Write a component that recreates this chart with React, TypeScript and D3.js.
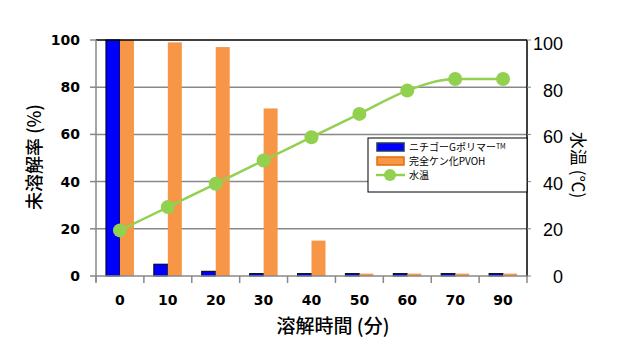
import React from "react";
import * as d3 from "d3";

const categories = ["0", "10", "20", "30", "40", "50", "60", "70", "90"];
const nichigoValues = [100, 5, 2, 1, 1, 1, 1, 1, 1];
const pvohValues = [100, 99, 97, 71, 15, 1, 1, 1, 1];
const waterTemp = [20, 30, 40, 50, 60, 70, 80, 85, 85];
const leftTicks = [0, 20, 40, 60, 80, 100];
const rightTicks = [0, 20, 40, 60, 80, 100];

const W = 620, H = 360;
const L = 96, R = 527, T = 40, B = 276;

export default function App() {
  const x = d3.scaleBand<string>().domain(categories).range([L, R]);
  const y = d3.scaleLinear().domain([0, 100]).range([B, T]);
  const y2 = d3.scaleLinear().domain([0, 100]).range([277, 44]);
  const bw = 14;
  const cx = (c: string) => (x(c) as number) + x.bandwidth() / 2;
  const line = d3
    .line<number>()
    .x((_, i) => cx(categories[i]))
    .y((d) => y2(d))
    .curve(d3.curveMonotoneX);
  const font = "'Liberation Sans', Arial, 'Noto Sans CJK JP', sans-serif";
  const bfont = "'DejaVu Sans', Verdana, sans-serif";
  const jfont = "'Noto Sans CJK JP', sans-serif";
  return (
    <svg width={W} height={H} style={{ position: "absolute", left: 0, top: 0, background: "#fff" }} fontFamily={font}>
      {/* gridlines */}
      {leftTicks.filter((t) => t > 0 && t < 100).map((t) => (
        <line key={t} x1={L} x2={R} y1={y(t)} y2={y(t)} stroke="#888" strokeWidth={1.5} />
      ))}
      {/* bars */}
      {categories.map((c, i) => (
        <g key={c}>
          <rect x={cx(c) - bw} y={y(nichigoValues[i])} width={bw} height={B - y(nichigoValues[i])} fill="#0000ff" stroke="#000" strokeWidth={1} />
          <rect x={cx(c)} y={y(pvohValues[i])} width={bw} height={B - y(pvohValues[i])} fill="#f79646" />
        </g>
      ))}
      {/* top border and right axis */}
      <line x1={L} x2={R} y1={T} y2={T} stroke="#000" strokeWidth={1.5} />
      <line x1={R} x2={R} y1={T} y2={B + 1} stroke="#000" strokeWidth={1.5} />
      {rightTicks.map((t) => (
        <line key={"rt" + t} x1={R} x2={R + 4} y1={y(t)} y2={y(t)} stroke="#888" strokeWidth={1} />
      ))}
      {/* left axis */}
      <line x1={L} x2={L} y1={T} y2={B + 6} stroke="#888" strokeWidth={1.5} />
      {leftTicks.map((t) => (
        <g key={"lt" + t}>
          <line x1={L - 6} x2={L} y1={y(t)} y2={y(t)} stroke="#888" strokeWidth={1.5} />
          <text x={80} y={y(t) + 5} textAnchor="end" fontSize={14} fontWeight="bold" fontFamily={bfont} fill="#000">{t}</text>
        </g>
      ))}
      {/* bottom axis */}
      <line x1={L} x2={R} y1={B} y2={B} stroke="#888" strokeWidth={1.5} />
      {categories.map((c) => (
        <line key={"bt" + c} x1={x(c) as number} x2={x(c) as number} y1={B} y2={B + 7} stroke="#888" strokeWidth={1.5} />
      ))}
      <line x1={R} x2={R} y1={B} y2={B + 7} stroke="#888" strokeWidth={1.5} />
      {categories.map((c) => (
        <text key={"bl" + c} x={cx(c)} y={305} textAnchor="middle" fontSize={14} fontWeight="bold" fontFamily={bfont} fill="#000">{c}</text>
      ))}
      {/* right tick labels */}
      {rightTicks.map((t) => (
        <text key={"rl" + t} x={563} y={y2(t) + 6} textAnchor="end" fontSize={18} fill="#000">{t}</text>
      ))}
      {/* line */}
      <path d={line(waterTemp) || ""} fill="none" stroke="#92d050" strokeWidth={2.5} />
      {waterTemp.map((v, i) => (
        <circle key={"pt" + i} cx={cx(categories[i])} cy={y2(v)} r={7} fill="#92d050" />
      ))}
      {/* titles */}
      <text transform="translate(41,157) rotate(-90)" textAnchor="middle" fontSize={18} fontWeight="500" fontFamily={jfont} fill="#000">未溶解率 (%)</text>
      <text transform="translate(572,165) rotate(90)" textAnchor="middle" fontSize={17} fontFamily={jfont} fill="#000">水温 (℃)</text>
      <text x={333} y={333} textAnchor="middle" fontSize={19} fontWeight="500" fontFamily={jfont} fill="#000">溶解時間 (分)</text>
      {/* legend */}
      <rect x={368} y={138} width={159} height={54} fill="#fff" stroke="#000" strokeWidth={1} />
      <rect x={377} y={143} width={27} height={8} fill="#0000ff" stroke="#1f3864" strokeWidth={1.5} />
      <text x={409} y={151} fontSize={10} fontFamily={jfont} fill="#000">ニチゴーGポリマー<tspan fontSize={7} dy={-2}>TM</tspan></text>
      <rect x={377} y={157} width={27} height={8} fill="#f79646" stroke="#e36c09" strokeWidth={1.5} />
      <text x={409} y={165} fontSize={10} fontFamily={jfont} fill="#000">完全ケン化PVOH</text>
      <line x1={376} x2={405} y1={175} y2={175} stroke="#92d050" strokeWidth={2.5} />
      <circle cx={390} cy={175} r={6} fill="#92d050" />
      <text x={409} y={179} fontSize={10} fontFamily={jfont} fill="#000">水温</text>
    </svg>
  );
}
